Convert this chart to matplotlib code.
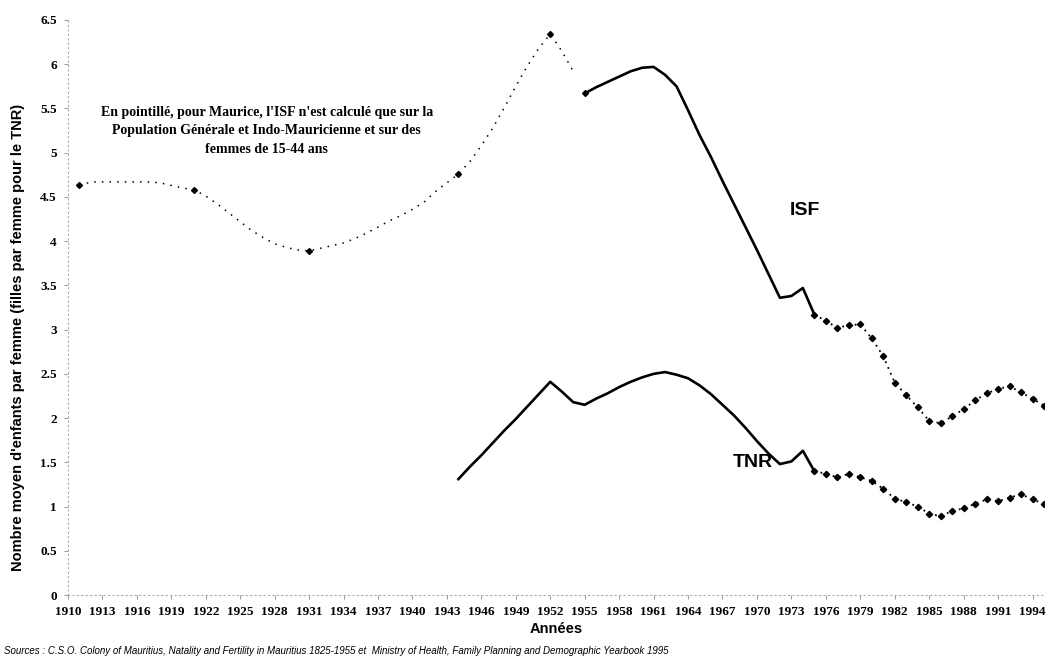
import matplotlib
matplotlib.use("Agg")
import matplotlib.pyplot as plt

# ISF Maurice, pointillé (population générale et indo-mauricienne, femmes 15-44 ans)
isf_pt_years = list(range(1911, 1955))
isf_pt = [4.63, 4.67, 4.67, 4.67, 4.67, 4.67, 4.67, 4.66, 4.63, 4.60,
          4.58, 4.51, 4.42, 4.32, 4.22, 4.12, 4.04, 3.97, 3.93, 3.90,
          3.89, 3.92, 3.95, 3.98, 4.03, 4.09, 4.16, 4.23, 4.29, 4.36,
          4.44, 4.56, 4.66, 4.76, 4.90, 5.08, 5.28, 5.51, 5.75, 5.98,
          6.18, 6.34, 6.15, 5.92]
census_years = [1911, 1921, 1931, 1944, 1952]

# ISF, trait plein puis pointillé
isf_years = list(range(1955, 1976))
isf = [5.67, 5.74, 5.80, 5.86, 5.92, 5.96, 5.97, 5.88, 5.75, 5.48,
       5.20, 4.95, 4.68, 4.42, 4.16, 3.90, 3.63, 3.36, 3.38, 3.47, 3.17]
isf2_years = list(range(1975, 1996))
isf2 = [3.17, 3.10, 3.02, 3.05, 3.06, 2.90, 2.70, 2.40, 2.26, 2.12,
        1.97, 1.94, 2.02, 2.10, 2.20, 2.28, 2.33, 2.36, 2.29, 2.22, 2.14]

# TNR
tnr_years = list(range(1944, 1976))
tnr = [1.31, 1.45, 1.58, 1.72, 1.86, 1.99, 2.13, 2.27, 2.41, 2.30,
       2.18, 2.15, 2.22, 2.28, 2.35, 2.41, 2.46, 2.50, 2.52, 2.49,
       2.45, 2.37, 2.27, 2.15, 2.03, 1.89, 1.74, 1.60, 1.48, 1.51,
       1.63, 1.40]
tnr2_years = list(range(1975, 1996))
tnr2 = [1.40, 1.37, 1.33, 1.37, 1.33, 1.29, 1.20, 1.09, 1.05, 1.00,
        0.92, 0.89, 0.95, 0.98, 1.03, 1.08, 1.06, 1.10, 1.14, 1.08, 1.03]

xticks = list(range(1910, 1995, 3))
yticks = [i * 0.5 for i in range(14)]

note = ("En pointillé, pour Maurice, l'ISF n'est calculé que sur la\n"
        "Population Générale et Indo-Mauricienne et sur des\n"
        "femmes de 15-44 ans")
source = ("Sources : C.S.O. Colony of Mauritius, Natality and Fertility in Mauritius 1825-1955 et  "
          "Ministry of Health, Family Planning and Demographic Yearbook 1995")

W, H = 1052, 662
fig = plt.figure(figsize=(W / 100, H / 100), dpi=100)
ax = fig.add_axes([68 / W, 67 / H, (1044 - 68) / W, (595 - 20) / H])

serif = ['Liberation Serif', 'DejaVu Serif']
sans = ['Liberation Sans', 'DejaVu Sans']

# early dotted ISF with census points
ax.plot(isf_pt_years, isf_pt, color='black', lw=1.1, ls=(0, (1, 4)))
cy = [isf_pt[isf_pt_years.index(y)] for y in census_years]
ax.plot(census_years, cy, ls='none', marker='D', ms=3, color='black')

ax.plot(isf_years, isf, color='black', lw=1.9)
ax.plot(isf_years[:1], isf[:1], ls='none', marker='D', ms=3, color='black')
ax.plot(isf2_years, isf2, color='black', lw=1.3, ls=(0, (1, 2.5)))
ax.plot(isf2_years, isf2, ls='none', marker='D', ms=3.2, color='black')

ax.plot(tnr_years, tnr, color='black', lw=1.9)
ax.plot(tnr2_years, tnr2, color='black', lw=1.3, ls=(0, (1, 2.5)))
ax.plot(tnr2_years, tnr2, ls='none', marker='D', ms=3.2, color='black')

ax.text(1972.9, 4.35, 'ISF', fontsize=14, fontweight='bold', family=sans,
        ha='left', va='center')
ax.text(1971.4, 1.5, 'TNR', fontsize=14, fontweight='bold', family=sans,
        ha='right', va='center')
ax.text(1927.3, 5.25, note, fontsize=10, fontweight='bold', family=serif,
        ha='center', va='center', linespacing=1.55)

ax.set_xlim(1910, 1995)
ax.set_ylim(0, 6.5)
ax.set_xticks(xticks)
ax.set_xticklabels([str(y) for y in xticks], fontsize=9.5, fontweight='bold',
                   family=serif)
ax.set_yticks(yticks)
ax.set_yticklabels([f"{v:g}" for v in yticks], fontsize=9.5, fontweight='bold',
                   family=serif)
ax.tick_params(length=3, width=0.6, colors='#888888', labelcolor='black', pad=5)

for side in ['top', 'right']:
    ax.spines[side].set_visible(False)
for side in ['left', 'bottom']:
    ax.spines[side].set_color('#aaaaaa')
    ax.spines[side].set_linestyle((0, (1, 3)))
    ax.spines[side].set_linewidth(0.8)

ax.set_xlabel('Années', fontsize=10.5, fontweight='bold', family=sans, labelpad=3)
fig.text(0.017, 0.49, "Nombre moyen d'enfants par femme (filles par femme pour le TNR)",
         rotation=90, fontsize=10.5, fontweight='bold', family=sans,
         ha='center', va='center')
fig.text(0.004, 0.016, source, fontsize=7, style='italic', family=sans,
         ha='left', va='center')

fig.savefig('out.png', dpi=100)
